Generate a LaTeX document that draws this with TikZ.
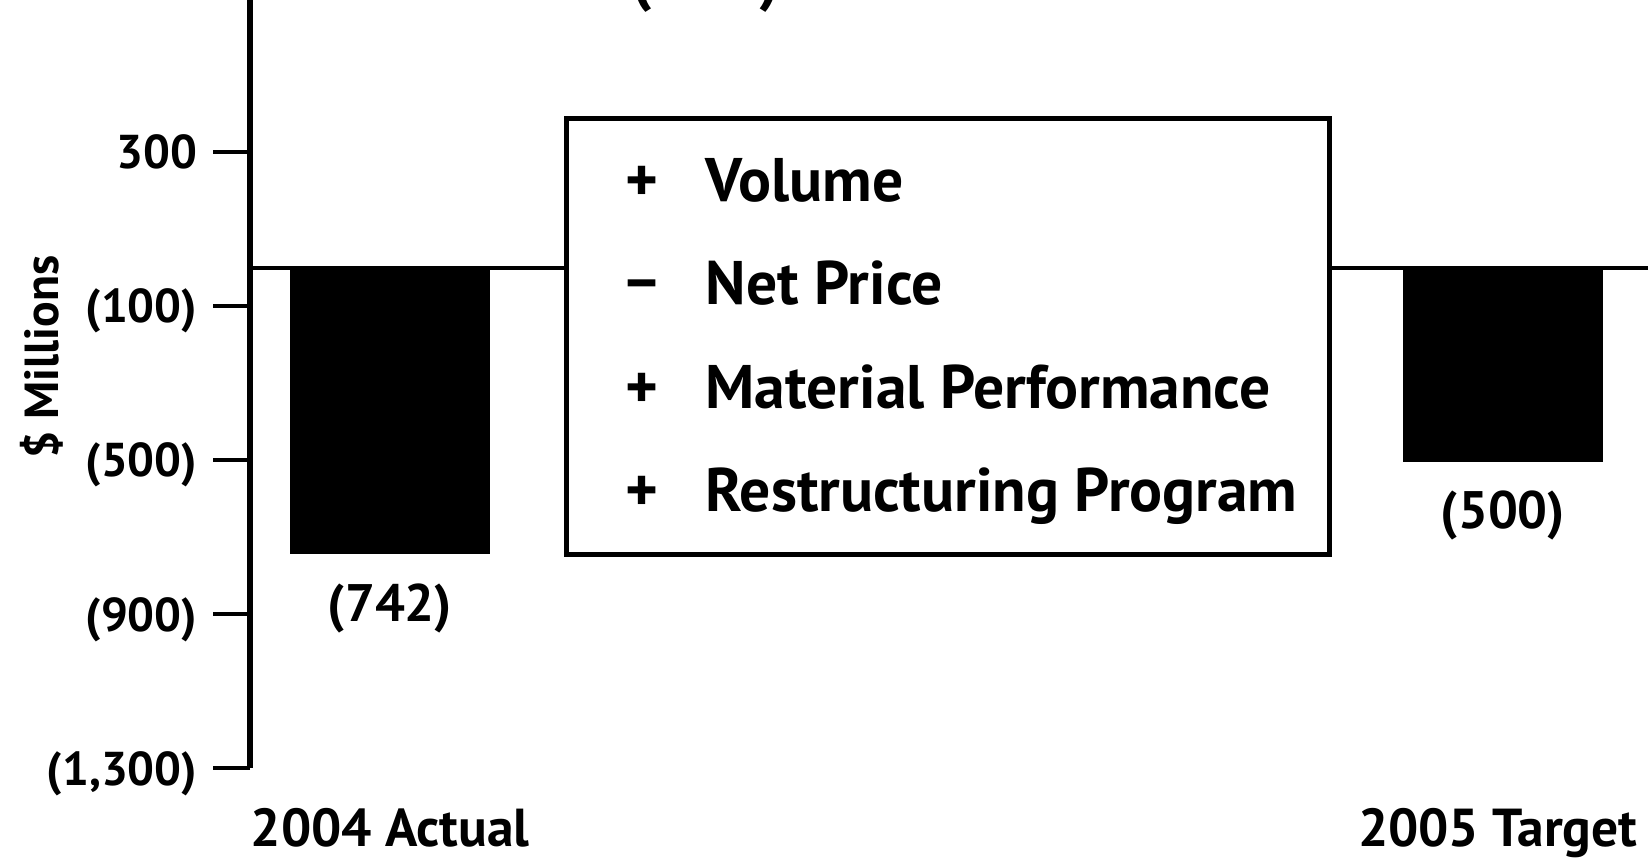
\documentclass[tikz,border=0pt]{standalone}
\usepackage{fontspec}
\setmainfont{PT Sans}
\usetikzlibrary{positioning}

\begin{document}
\begin{tikzpicture}[x=0.01cm, y=-0.01cm, font=\bfseries, inner sep=0pt,
    axisline/.style={line width=1.7pt},
    zeroline/.style={line width=1.1pt},
    tickmark/.style={line width=1.2pt},
    ticklabel/.style={anchor=base east, font=\fontsize{13.5}{16}\bfseries},
    bar/.style={fill=black, minimum width=2cm, anchor=north},
    barlabel/.style={anchor=base, font=\fontsize{15}{17}\bfseries},
    item/.style={anchor=base west, font=\fontsize{17.5}{21}\bfseries},
    sign/.style={anchor=base, font=\fontsize{17.8}{21}\bfseries},
    caption/.style={font=\fontsize{15.2}{18}\bfseries}]
  \clip (0,0) rectangle (1648,858);

  % axis and ticks
  \coordinate (top) at (250,-20);
  \coordinate (bottom) at (250,768);
  \draw[axisline] (top) -- (bottom);
  \coordinate (zero) at (250,268);

  \coordinate (t1) at (250,152);
  \coordinate (t2) at (250,306);
  \coordinate (t3) at (250,460);
  \coordinate (t4) at (250,614);
  \coordinate (t5) at (250,768);
  \draw[tickmark] (t1) -- ++(-37,0) (t2) -- ++(-37,0) (t3) -- ++(-37,0)
                  (t4) -- ++(-37,0) (t5) -- ++(-37,0);

  \node[ticklabel] (l1) at (198,169) {300};
  \node[ticklabel] (l2) at (198,323) {(100)};
  \node[ticklabel] (l3) at (198,477) {(500)};
  \node[ticklabel] (l4) at (198,631) {(900)};
  \node[ticklabel] (l5) at (198,785) {(1,300)};

  \node[rotate=90, font=\fontsize{13.6}{16}\bfseries] (unit) at (42,357) {\$ Millions};

  % bars
  \node[bar, minimum height=2.85cm] (actual) at (390,268) {};
  \node[bar, minimum height=1.93cm] (target) at (1503,268) {};
  \node[barlabel] (actualval) at (390,622) {(742)};
  \node[barlabel] (targetval) at (1503,529) {(500)};
  \node[anchor=base, font=\fontsize{18}{20}\bfseries] (change) at (706,-1) {(242)};

  % legend box
  \node[draw, line width=1.4pt, minimum width=7.62cm, minimum height=4.35cm] (legend) at (948,336.5) {};
  \draw[zeroline] (zero) -- (zero -| legend.west);
  \draw[zeroline] (zero -| legend.east) -- (1660,268);

  \node[item] (volume) at (705,202) {Volume};
  \node[item] (price) at (705,305) {Net Price};
  \node[item] (material) at (705,409) {Material Performance};
  \node[item] (restructuring) at (705,512) {Restructuring Program};
  \node[sign] (s1) at (642,202) {+};
  \node[sign] (s2) at (642,305) {−};
  \node[sign] (s3) at (642,409) {+};
  \node[sign] (s4) at (642,512) {+};

  % captions
  \node[caption, anchor=base west] (year1) at (250,846) {2004 Actual};
  \node[caption, anchor=base east] (year2) at (1638,846) {2005 Target};
\end{tikzpicture}
\end{document}
